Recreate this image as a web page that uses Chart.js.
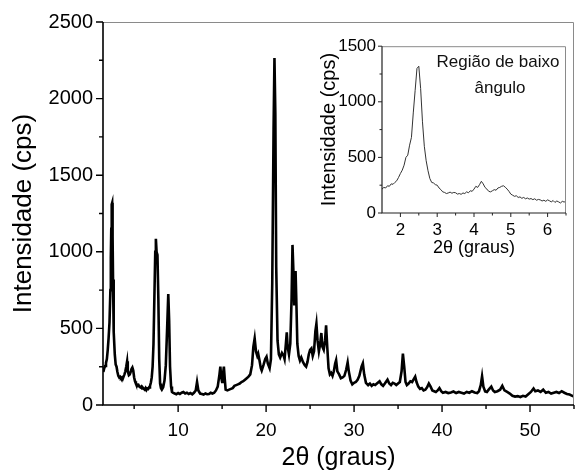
<!DOCTYPE html>
<html><head><meta charset="utf-8">
<script src="https://cdn.jsdelivr.net/npm/chart.js@4.4.0/dist/chart.umd.min.js"></script>
<style>
html,body{margin:0;padding:0;background:#fff;}
#wrap{position:relative;width:575px;height:473px;overflow:hidden;}
#main{position:absolute;left:0;top:0;}
#inset{position:absolute;left:315px;top:30px;}
</style></head><body>
<div id="wrap"><canvas id="main" width="575" height="473"></canvas><canvas id="inset" width="255" height="230"></canvas></div>
<script>
// ---- main pattern data (2theta, intensity) ----
const mainX = [1.5,1.6,1.7,1.8,1.9,2.0,2.1,2.2,2.3,2.35,2.4,2.45,2.5,2.55,2.6,2.65,2.7,2.8,2.9,3.0,3.1,3.2,
3.3,3.4,3.5,3.6,3.7,3.8,3.9,4.0,4.1,4.2,4.25,4.3,4.4,4.5,4.6,4.7,4.8,4.9,5.0,5.1,5.2,5.3,5.4,5.5,5.6,5.7,5.8,5.9,6.0,6.1,6.2,6.3,6.4,6.5,
6.6,6.7,6.8,6.9,7.0,7.1,7.2,7.3,7.4,7.47,7.55,7.65,7.75,7.85,7.95,8.05,8.15,8.3,8.45,8.6,8.75,8.88,8.98,9.08,9.2,9.3,9.4,9.6,9.8,
10.0,10.2,10.4,10.6,10.8,11.0,11.2,11.4,11.6,11.8,12.0,12.15,12.3,12.5,12.7,12.9,13.1,13.3,13.5,13.7,13.9,14.1,14.3,14.5,14.7,14.8,14.9,15.0,15.1,15.2,15.3,15.4,15.6,15.8,
16.0,16.2,16.4,16.6,16.8,17.0,17.2,17.4,17.6,17.8,18.0,18.2,18.4,18.55,18.7,18.85,19.0,19.1,19.25,19.4,19.5,19.7,19.9,20.05,20.2,20.4,20.55,20.7,20.85,20.95,21.05,21.15,21.3,21.45,21.6,21.8,
22.0,22.1,22.25,22.35,22.45,22.6,22.75,22.9,23.0,23.1,23.2,23.35,23.45,23.55,23.7,23.85,24.0,24.2,24.4,24.55,24.7,24.85,25.0,25.15,25.3,25.45,25.6,25.72,25.85,26.0,26.15,26.28,26.4,26.55,26.7,26.82,26.95,
27.1,27.25,27.4,27.55,27.7,27.85,27.96,28.1,28.3,28.5,28.7,28.9,29.1,29.27,29.4,29.6,29.8,30.0,30.2,30.4,30.6,30.85,31.0,31.15,31.35,31.6,31.8,32.0,32.2,32.4,32.6,32.9,33.1,33.3,33.5,33.8,
34.0,34.2,34.4,34.6,34.8,35.0,35.2,35.4,35.55,35.7,35.85,36.0,36.2,36.4,36.6,36.8,36.95,37.1,37.3,37.5,37.7,37.9,38.1,38.3,38.5,38.7,38.9,39.1,39.3,39.5,39.7,39.9,
40.1,40.4,40.7,41.0,41.3,41.6,41.9,42.2,42.5,42.8,43.1,43.4,43.7,44.0,44.2,44.4,44.55,44.7,44.9,45.1,45.3,45.6,45.8,46.0,46.3,46.6,46.85,47.1,47.4,47.7,
48.0,48.3,48.6,48.9,49.2,49.5,49.8,50.1,50.4,50.6,50.9,51.2,51.5,51.8,52.1,52.4,52.7,53.0,53.3,53.6,53.9,54.2,54.5,54.8,55.0];
const mainY = [215,240,255,275,300,360,440,540,750,960,1150,1310,1320,1100,820,620,480,330,265,250,215,190,
180,185,175,180,170,185,200,220,250,285,270,220,195,200,215,235,245,225,180,155,140,135,125,130,120,115,120,108,112,105,100,110,98,108,
105,115,125,145,180,250,400,700,1000,1085,1000,980,700,300,140,110,100,115,160,260,500,725,550,250,120,85,80,75,70,
78,72,80,85,75,80,72,78,70,80,95,150,95,75,72,68,75,70,72,80,75,80,95,120,200,250,180,150,200,250,170,100,95,100,
105,110,125,130,135,140,150,155,165,175,185,200,260,380,435,350,320,335,290,240,225,260,300,315,270,240,300,800,1800,2265,1900,900,420,330,310,340,
320,300,400,475,380,330,400,700,1045,880,650,875,650,400,320,290,310,280,260,250,280,330,360,370,320,350,480,530,420,350,400,470,380,360,420,520,380,
240,200,210,190,220,270,292,220,200,175,180,190,230,278,220,160,135,145,150,165,190,250,272,200,145,130,140,125,135,130,140,155,135,125,140,165,
140,130,145,140,130,140,150,220,335,250,150,130,140,155,150,170,185,150,120,105,110,95,100,115,140,120,95,90,85,95,110,90,
80,85,78,82,88,78,85,80,75,85,80,90,82,78,90,130,188,120,88,85,100,120,95,85,90,100,125,95,85,75,
60,55,58,52,60,55,70,85,108,90,95,85,100,80,85,75,80,85,78,90,80,72,68,60,55];

// ---- inset (low-angle region) data ----
const insetX = [1.50,1.55,1.60,1.65,1.70,1.75,1.80,1.85,1.90,1.95,2.00,2.05,2.10,2.15,2.20,2.25,2.30,2.35,2.40,2.45,2.50,2.55,2.60,2.65,2.70,2.75,2.80,2.85,2.90,2.95,
3.00,3.05,3.10,3.15,3.20,3.25,3.30,3.35,3.40,3.45,3.50,3.55,3.60,3.65,3.70,3.75,3.80,3.85,3.90,3.95,4.00,4.05,4.10,4.15,4.20,4.25,4.30,4.35,4.40,4.45,
4.50,4.55,4.60,4.65,4.70,4.75,4.80,4.85,4.90,4.95,5.00,5.05,5.10,5.15,5.20,5.25,5.30,5.35,5.40,5.45,5.50,5.55,5.60,5.65,5.70,5.75,5.80,5.85,5.90,5.95,
6.00,6.05,6.10,6.15,6.20,6.25,6.30,6.35,6.40,6.45,6.50];
const insetY = [215,230,225,245,240,262,258,275,290,320,355,385,430,500,520,610,680,900,1100,1300,1320,1120,820,600,470,380,310,275,270,255,
250,225,210,190,185,175,180,188,178,185,182,170,175,168,180,175,190,182,200,195,215,240,230,255,285,262,230,215,195,190,
200,210,205,225,230,240,245,232,215,195,170,160,150,155,140,145,132,140,128,135,125,130,120,128,115,122,118,108,115,105,
118,110,100,112,95,108,100,90,105,98,110];

// ---- axes ----
const mainXTicks = [10,20,30,40,50];
const mainXMinor = [5,15,25,35,45,55];
const mainYTicks = [0,500,1000,1500,2000,2500];
const mainYMinor = [250,750,1250,1750,2250];
const insetXTicks = [2,3,4,5,6];
const insetXMinor = [2.5,3.5,4.5,5.5,6.5];
const insetYTicks = [0,500,1000,1500];
const insetYMinor = [250,750,1250];
const mainXLabel = '2θ (graus)';
const mainYLabel = 'Intensidade (cps)';
const insetNote = ['Região de baixo','ângulo'];

const FONT = "'Liberation Sans', Arial, Helvetica, sans-serif";
const pts = (xs, ys) => xs.map((x, i) => ({x, y: ys[i]}));
const plain = v => String(v);

function frameTicks(o) {
  return {
    id: 'frameTicks',
    afterDraw(chart) {
      const {ctx, chartArea: a, scales: {x, y}} = chart;
      ctx.save();
      ctx.strokeStyle = o.frameColor; ctx.lineWidth = 1;
      ctx.beginPath();
      ctx.moveTo(a.left, a.top + 0.5); ctx.lineTo(a.right - 0.5, a.top + 0.5); ctx.lineTo(a.right - 0.5, a.bottom);
      ctx.stroke();
      ctx.strokeStyle = o.axisColor; ctx.lineWidth = o.axisWidth;
      ctx.beginPath();
      ctx.moveTo(a.left, a.top); ctx.lineTo(a.left, a.bottom); ctx.lineTo(a.right, a.bottom);
      ctx.stroke();
      ctx.lineWidth = o.tickWidth;
      ctx.beginPath();
      const xt = (v, len) => { const p = x.getPixelForValue(v); ctx.moveTo(p, a.bottom); ctx.lineTo(p, a.bottom + len); };
      const yt = (v, len) => { const p = y.getPixelForValue(v); ctx.moveTo(a.left, p); ctx.lineTo(a.left - len, p); };
      o.xMajor.forEach(v => xt(v, o.major)); o.xMinor.forEach(v => xt(v, o.minor));
      o.yMajor.forEach(v => yt(v, o.major)); o.yMinor.forEach(v => yt(v, o.minor));
      ctx.stroke();
      if (o.note) {
        ctx.fillStyle = '#111';
        ctx.font = o.noteFont;
        ctx.textAlign = 'center'; ctx.textBaseline = 'alphabetic';
        o.note.forEach((t, i) => ctx.fillText(t, a.left + o.noteDx[i], o.noteY[i]));
      }
      ctx.restore();
    }
  };
}

new Chart(document.getElementById('main'), {
  type: 'line',
  data: { datasets: [{ data: pts(mainX, mainY), borderColor: '#000', borderWidth: 2.6, pointRadius: 0, tension: 0, fill: false }] },
  options: {
    responsive: false, animation: false, devicePixelRatio: 1,
    layout: { padding: { top: 21, right: 1, left: 0, bottom: 0 } },
    plugins: { legend: { display: false }, tooltip: { enabled: false } },
    scales: {
      x: {
        type: 'linear', min: 1.46, max: 55,
        afterBuildTicks: s => { s.ticks = mainXTicks.map(v => ({value: v})); },
        afterFit: s => { s.height = 68; },
        grid: { display: false, drawTicks: false }, border: { display: false },
        ticks: { color: '#000', font: { family: FONT, size: 19 }, padding: 14, maxRotation: 0, callback: plain },
        title: { display: true, text: mainXLabel, color: '#000', font: { family: FONT, size: 25, lineHeight: 1 }, padding: { top: 0, bottom: 2 } }
      },
      y: {
        min: 0, max: 2500,
        afterBuildTicks: s => { s.ticks = mainYTicks.map(v => ({value: v})); },
        afterFit: s => { s.width = 103; },
        grid: { display: false, drawTicks: false }, border: { display: false },
        ticks: { color: '#000', font: { family: FONT, size: 20 }, padding: 10, callback: plain },
        title: { display: true, text: mainYLabel, color: '#000', font: { family: FONT, size: 26, lineHeight: 1 }, padding: { top: 11, bottom: 0 } }
      }
    }
  },
  plugins: [frameTicks({ frameColor: '#8a8a8a', axisColor: '#000', axisWidth: 1.6, tickWidth: 1.4, major: 7, minor: 4,
    xMajor: mainXTicks, xMinor: mainXMinor, yMajor: mainYTicks, yMinor: mainYMinor })]
});

new Chart(document.getElementById('inset'), {
  type: 'line',
  data: { datasets: [{ data: pts(insetX, insetY), borderColor: '#333', borderWidth: 1, pointRadius: 0, tension: 0, fill: false }] },
  options: {
    responsive: false, animation: false, devicePixelRatio: 1,
    layout: { padding: { top: 12, right: 4, left: 0, bottom: 0 } },
    plugins: { legend: { display: false }, tooltip: { enabled: false } },
    scales: {
      x: {
        type: 'linear', min: 1.5, max: 6.5,
        afterBuildTicks: s => { s.ticks = insetXTicks.map(v => ({value: v})); },
        afterFit: s => { s.height = 47; },
        grid: { display: false, drawTicks: false }, border: { display: false },
        ticks: { color: '#000', font: { family: FONT, size: 17 }, padding: 7, maxRotation: 0, callback: plain },
        title: { display: true, text: mainXLabel, color: '#000', font: { family: FONT, size: 18, lineHeight: 1 }, padding: { top: 0, bottom: 3 } }
      },
      y: {
        min: 0, max: 1500,
        afterBuildTicks: s => { s.ticks = insetYTicks.map(v => ({value: v})); },
        afterFit: s => { s.width = 67; },
        grid: { display: false, drawTicks: false }, border: { display: false },
        ticks: { color: '#000', font: { family: FONT, size: 17 }, padding: 6, callback: plain },
        title: { display: true, text: mainYLabel, color: '#000', font: { family: FONT, size: 20, lineHeight: 1 }, padding: { top: 4, bottom: 0 } }
      }
    }
  },
  plugins: [frameTicks({ frameColor: '#8a8a8a', axisColor: '#222', axisWidth: 1.2, tickWidth: 1, major: 4, minor: 2.5,
    xMajor: insetXTicks, xMinor: insetXMinor, yMajor: insetYTicks, yMinor: insetYMinor,
    note: insetNote, noteFont: '17px ' + FONT, noteDx: [116, 118], noteY: [37, 63] })]
});
</script>
</body></html>
